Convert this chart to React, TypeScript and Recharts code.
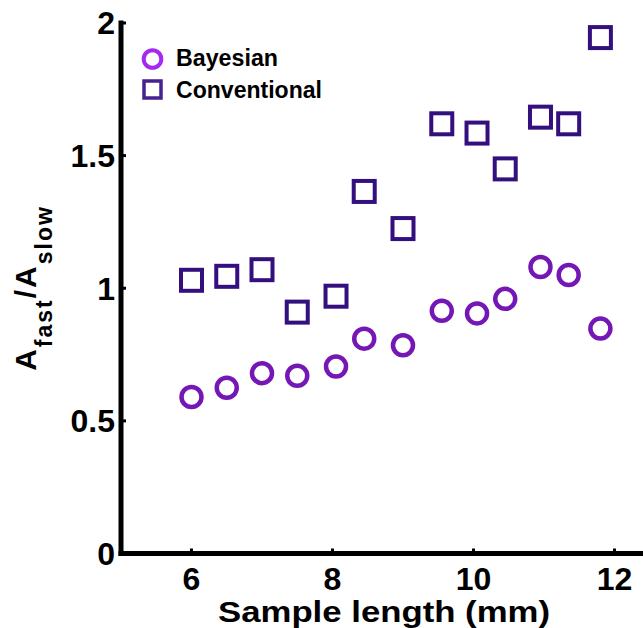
import React from 'react';
import { ScatterChart, Scatter, XAxis, YAxis, Legend } from 'recharts';

// sample length in mm
const sampleLength = [6.0, 6.5, 7.0, 7.5, 8.05, 8.45, 9.0, 9.55, 10.05, 10.45, 10.95, 11.35, 11.8];
const bayesian = [0.59, 0.625, 0.68, 0.67, 0.705, 0.81, 0.785, 0.915, 0.905, 0.96, 1.08, 1.05, 0.848];
const conventional = [1.03, 1.045, 1.07, 0.91, 0.97, 1.365, 1.225, 1.62, 1.585, 1.45, 1.645, 1.62, 1.945];

const xTicks = [6, 8, 10, 12];
const yTicks = [0, 0.5, 1, 1.5, 2];
const yTickLabels = ['0', '0.5', '1', '1.5', '2'];

const bayesData = sampleLength.map((x, i) => ({ x, y: bayesian[i] }));
const convData = sampleLength.map((x, i) => ({ x, y: conventional[i] }));

const FONT = '"Liberation Sans", Arial, Helvetica, sans-serif';
const CIRCLE = '#7417b4';
const SQUARE = '#33107e';

const axisLine = { stroke: '#000', strokeWidth: 5, strokeLinecap: 'square' as const };
const tickLine = { stroke: '#000', strokeWidth: 3 };
const tickStyle = { fill: '#000', fontSize: 32, fontWeight: 700, fontFamily: FONT };

const CircleMark = (props: any) => (
  <circle cx={props.cx} cy={props.cy} r={10} fill="none" stroke={CIRCLE} strokeWidth={4.5} />
);

const SquareMark = (props: any) => (
  <rect x={props.cx - 10.5} y={props.cy - 10.5} width={21} height={21} fill="none" stroke={SQUARE} strokeWidth={4} />
);

const LegendBox = () => (
  <svg width={340} height={110} style={{ display: 'block' }}>
    <circle cx={152.5} cy={59} r={8.8} fill="none" stroke="#a32af2" strokeWidth={4} />
    <text x={176} y={66} fontSize={23} fontWeight={700} fontFamily={FONT} fill="#000" textLength={102} lengthAdjust="spacingAndGlyphs">Bayesian</text>
    <rect x={144} y={81} width={17} height={17} fill="none" stroke="#47218f" strokeWidth={3.5} />
    <text x={176} y={98} fontSize={23} fontWeight={700} fontFamily={FONT} fill="#000" textLength={146} lengthAdjust="spacingAndGlyphs">Conventional</text>
  </svg>
);

const YLabel = () => (
  <text
    transform="rotate(-90, 36, 288)"
    x={36}
    y={288}
    textAnchor="middle"
    fontFamily={FONT}
    fontWeight={700}
    fill="#000"
    style={{ letterSpacing: 2 }}
  >
    <tspan fontSize={30}>A</tspan>
    <tspan fontSize={23} dy={16}>fast</tspan>
    <tspan fontSize={30} dy={-16}>/A</tspan>
    <tspan fontSize={23} dy={16}>slow</tspan>
  </text>
);

const XLabel = () => (
  <text
    x={384}
    y={622}
    textAnchor="middle"
    fontSize={30}
    fontWeight={700}
    fontFamily={FONT}
    fill="#000"
    textLength={332}
    lengthAdjust="spacingAndGlyphs"
  >
    Sample length (mm)
  </text>
);

export default function App() {
  return (
    <div style={{ position: 'absolute', left: 0, top: 0, width: 643, height: 628, overflow: 'hidden', background: '#fff' }}>
      <ScatterChart width={720} height={628} margin={{ top: 23, right: 35, bottom: 0, left: 41 }}>
        <XAxis
          type="number"
          dataKey="x"
          domain={[5, 13]}
          ticks={xTicks}
          allowDataOverflow
          height={74.5}
          axisLine={axisLine}
          tickLine={tickLine}
          tickSize={-5}
          tickMargin={19}
          tick={tickStyle}
          label={{ content: () => <XLabel /> }}
        />
        <XAxis
          xAxisId="top"
          orientation="top"
          type="number"
          dataKey="x"
          domain={[5, 13]}
          ticks={xTicks}
          height={0}
          axisLine={axisLine}
          tickLine={tickLine}
          tickSize={-5}
          tick={false}
        />
        <YAxis
          type="number"
          dataKey="y"
          domain={[0, 2]}
          ticks={yTicks}
          width={80}
          axisLine={axisLine}
          tickLine={tickLine}
          tickSize={-5}
          tickMargin={11}
          tick={tickStyle}
          tickFormatter={(v: number) => yTickLabels[yTicks.indexOf(v)] ?? String(v)}
          label={{ content: () => <YLabel /> }}
        />
        <Legend
          layout="vertical"
          align="center"
          verticalAlign="middle"
          wrapperStyle={{ left: 0, top: 0, width: 340 }}
          content={() => <LegendBox />}
        />
        <Scatter name="Bayesian" data={bayesData} shape={CircleMark} isAnimationActive={false} />
        <Scatter name="Conventional" data={convData} shape={SquareMark} isAnimationActive={false} />
      </ScatterChart>
    </div>
  );
}
